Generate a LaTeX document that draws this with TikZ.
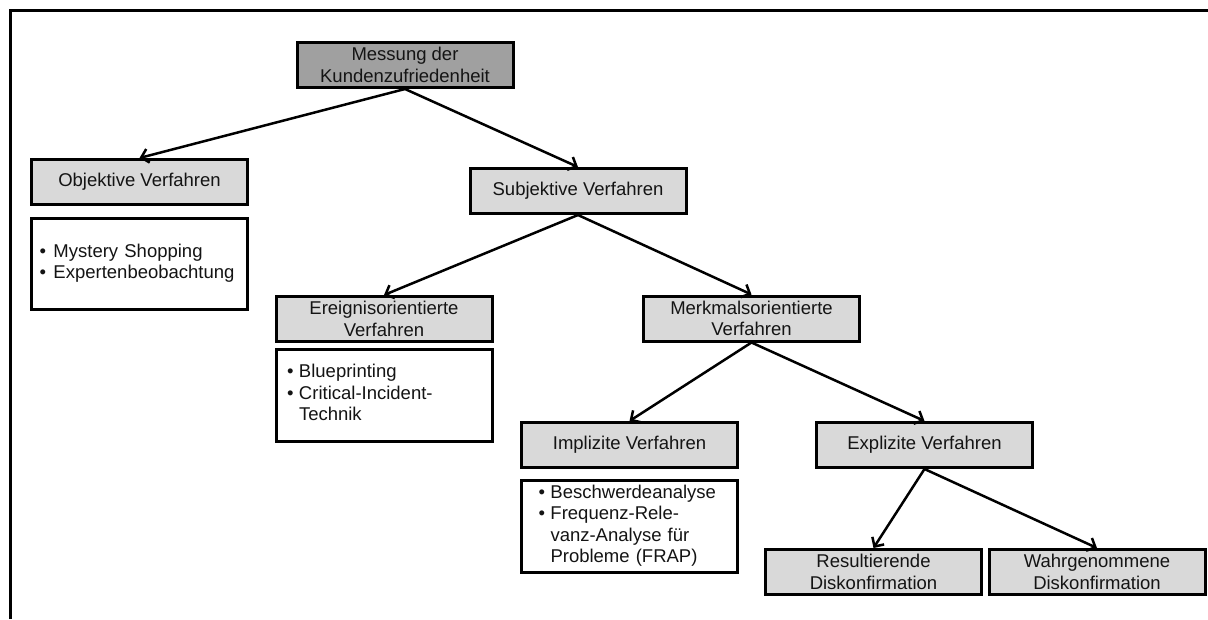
\documentclass[tikz,border=0pt]{standalone}
\usepackage{fontspec}
\setmainfont{Liberation Sans}
\usetikzlibrary{arrows.meta}
\definecolor{topfill}{RGB}{160,160,160}
\definecolor{boxfill}{RGB}{217,217,217}
\definecolor{txt}{RGB}{20,20,20}
\newcommand{\bul}[1][13pt]{\makebox[#1][l]{•}}
\newcommand{\ind}[1][13pt]{\hspace*{#1}}
\begin{document}
\begin{tikzpicture}[x=1pt,y=-1pt,
  every node/.style={font=\fontsize{18.5}{21.5}\selectfont, text=txt},
  graybox/.style={draw=black, line width=3pt, fill=boxfill, minimum width=216pt,
    minimum height=45pt, inner sep=0pt, align=center},
  topbox/.style={graybox, fill=topfill},
  listbox/.style={draw=black, line width=3pt, fill=white, minimum height=#1,
    inner sep=0pt, text width=216pt, align=left},
  conn/.style={line width=2.5pt, draw=black, -{Straight Barb[length=7pt,width=14pt,line width=2.5pt]}},
  frameline/.style={line width=3pt, draw=black}
]
\useasboundingbox (0,0) rectangle (1208,619);
\coordinate (fA) at (10,619);
\coordinate (fB) at (10,10);
\coordinate (fC) at (1208,10);
\draw[frameline] (fA) -- (fB) -- (fC);

\node[topbox]  (top)  at (405,65)   {Messung der\\Kundenzufriedenheit};
\node[graybox] (obj)  at (139.5,182) {Objektive Verfahren};
\node[listbox=91pt] (objl) at (139,263.5)
  {\hspace*{8.5pt}\begin{tabular}{@{}l@{}}\bul[14pt]Mystery Shopping\\\bul[14pt]Expertenbeobachtung\end{tabular}};
\node[graybox] (subj) at (578,191)  {Subjektive Verfahren};
\node[graybox] (ereig) at (384,319) {Ereignisorientierte\\Verfahren};
\node[listbox=92pt] (ereigl) at (384,395)
  {\hspace*{11pt}\begin{tabular}{@{}l@{}}\bul[12pt]Blueprinting\\\bul[12pt]Critical-Incident-\\\ind[12pt]Technik\end{tabular}};
\node[graybox] (merk) at (751.5,318.5) {Merkmalsorientierte\\Verfahren};
\node[graybox] (impl) at (629.5,445) {Implizite Verfahren};
\node[listbox=92pt] (impll) at (629.5,526)
  {\hspace*{17pt}\begin{tabular}{@{}l@{}}\bul[12pt]Beschwerdeanalyse\\\bul[12pt]Frequenz-Rele-\\\ind[12pt]vanz-Analyse für\\\ind[12pt]Probleme (FRAP)\end{tabular}};
\node[graybox] (expl) at (924.5,445) {Explizite Verfahren};
\node[graybox] (res)  at (873.5,572) {Resultierende\\Diskonfirmation};
\node[graybox] (wahr) at (1097,572) {Wahrgenommene\\Diskonfirmation};

\draw[conn] (top.south) -- (obj.north);
\draw[conn] (top.south) -- (subj.north);
\draw[conn] (subj.south) -- (ereig.north);
\draw[conn] (subj.south) -- (merk.north);
\draw[conn] (merk.south) -- (impl.north);
\draw[conn] (merk.south) -- (expl.north);
\draw[conn] (expl.south) -- (res.north);
\draw[conn] (expl.south) -- (wahr.north);
\end{tikzpicture}
\end{document}
